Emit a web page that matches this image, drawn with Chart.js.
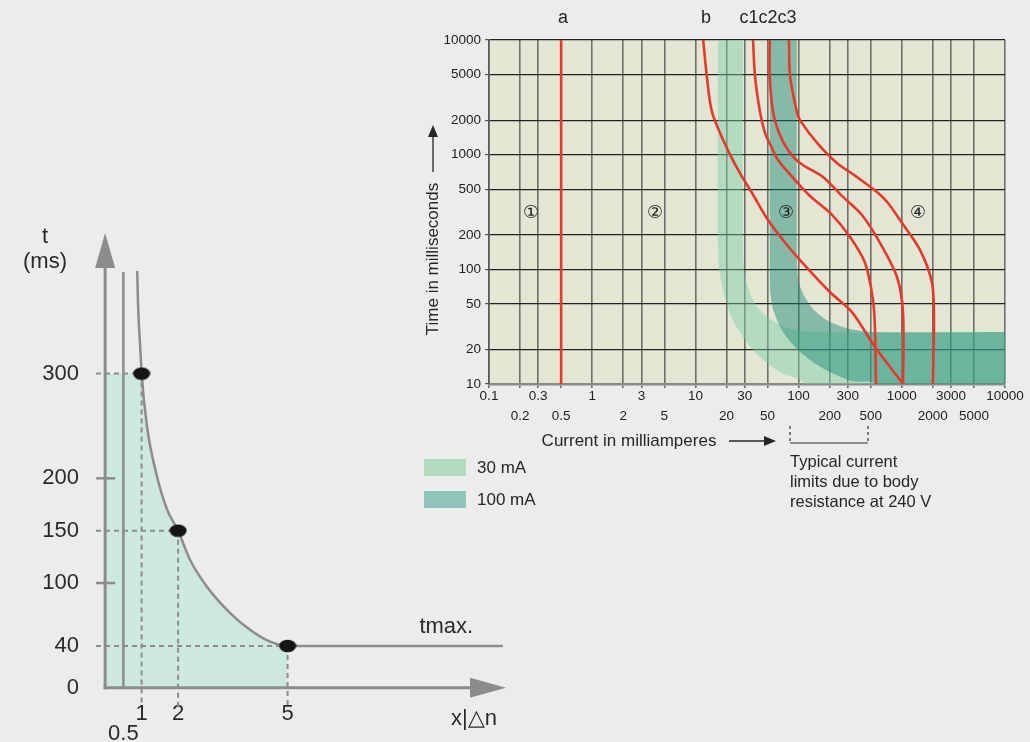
<!DOCTYPE html>
<html><head><meta charset="utf-8">
<script src="https://cdn.jsdelivr.net/npm/chart.js@4.4.1/dist/chart.umd.min.js"></script>
<style>
html,body{margin:0;padding:0;background:#ececec;width:1030px;height:742px;overflow:hidden;}
#wrapL{position:absolute;left:0;top:200px;width:530px;height:542px;}
#wrapR{position:absolute;left:400px;top:0;width:630px;height:530px;}
canvas{display:block;}
</style></head><body>
<div id="wrapL"><canvas id="cL" width="530" height="542"></canvas></div>
<div id="wrapR"><canvas id="cR" width="630" height="530"></canvas></div>
<script>
// ---------------- DATA ----------------
// Right chart: time/current zones (log-log)
const rightXTicksTop = [0.1, 0.3, 1, 3, 10, 30, 100, 300, 1000, 3000, 10000];
const rightXTicksBottom = [0.2, 0.5, 2, 5, 20, 50, 200, 500, 2000, 5000];
const rightYTicks = [10, 20, 50, 100, 200, 500, 1000, 2000, 5000, 10000];

const curveA = [[0.5, 10], [0.5, 10000]];
const curveB = [[11.9, 10000], [12.9, 4850], [14.5, 2350], [20.2, 1140], [27, 690], [35.4, 463], [50.5, 269], [70.6, 180], [98.6, 126], [201, 63.4], [329, 42.4], [550, 21], [1030, 10]];
const curveC1 = [[36.2, 10000], [37.8, 4850], [42.3, 2350], [47.3, 1545], [54, 1190], [63.1, 900], [92.3, 602], [129, 436], [211, 298], [315, 191], [440, 114], [526, 54], [550, 29.6], [562, 10]];
const curveC2 = [[52.5, 10000], [52.5, 4850], [56.5, 2350], [64.6, 1545], [78.9, 1100], [103, 845], [172, 638], [269, 428], [411, 298], [615, 170], [898, 85.7], [1028, 41.6], [1028, 10]];
const curveC3 = [[80.7, 10000], [82.6, 4850], [96.4, 2350], [103, 2000], [151, 1265], [235, 845], [368, 638], [575, 472], [735, 379], [961, 269], [1500, 148], [1963, 76], [2050, 36.1], [2000, 10]];

const band30 = [[16.6, 20000], [16.6, 148], [17.3, 89.3], [19.4, 56.2], [23.1, 36.1], [30.3, 24.2], [42.3, 17.2], [66.1, 12.7], [115, 10], [115, 5], [20000, 5], [20000, 28.4], [15000, 28.4], [129, 28.4], [73.8, 31.4], [47.3, 40], [36.2, 54], [30.9, 80.7], [28.9, 133], [28.9, 20000]];
const band100 = [[52.8, 20000], [52.8, 73], [55.3, 48.9], [61.8, 36.1], [70.6, 28.4], [92.3, 21], [129, 16.2], [201, 12.7], [329, 10.6], [550, 10], [550, 5], [20000, 5], [20000, 28.4], [15000, 28.4], [526, 28.4], [315, 30.2], [201, 34.7], [144, 43.3], [115, 57.4], [101, 76], [96.4, 109], [96.4, 20000]];

const curveLabels = ['a', 'b', 'c1c2c3'];
const curveLabelX = [0.52, 12.7, 50.5];
const zoneLabels = ['①', '②', '③', '④'];
const zoneLabelX = [0.255, 4.06, 75.5, 1436];
const zoneLabelY = 310;
const legendLabels = ['30 mA', '100 mA'];
const bodyLimitRange = [82.6, 470];
const bodyLimitText = ['Typical current', 'limits due to body', 'resistance at 240 V'];

// Left chart: tripping time vs multiple of rated residual current
const leftXTicksUpper = [1, 2, 5];
const leftXTicksLower = [0.5];
const leftYTicks = [0, 40, 100, 150, 200, 300];
const tripCurve = [[0.88, 398], [0.90, 368], [0.97, 320], [1, 300], [1.15, 249], [1.42, 202], [1.70, 170], [2, 150], [2.33, 122], [2.79, 96.5], [3.42, 71.6], [3.97, 55.4], [4.52, 44], [5, 40], [10.9, 40]];
const halfLine = [[0.5, 0], [0.5, 397]];
const keyPoints = [[1, 300], [2, 150], [5, 40]];
const tickMarksY = [100, 200];

// ---------------- STYLE ----------------
const FONT = "'Liberation Sans', Arial, Helvetica, sans-serif";
const RED = '#e6392c';
const toXY = a => a.map(p => ({x: p[0], y: p[1]}));

// ---------------- RIGHT CHART ----------------
const rightAllX = rightXTicksTop.concat(rightXTicksBottom).sort((a, b) => a - b);

const bgPlugin = {
  id: 'plotBg',
  beforeDraw(chart) {
    const a = chart.chartArea, c = chart.ctx;
    c.save(); c.fillStyle = '#e2e6d3';
    c.fillRect(a.left, a.top, a.right - a.left, a.bottom - a.top);
    c.restore();
  }
};

function arrowHead(c, x, y, dir, len, half) {
  c.beginPath();
  if (dir === 'up') { c.moveTo(x, y); c.lineTo(x - half, y + len); c.lineTo(x + half, y + len); }
  else { c.moveTo(x, y); c.lineTo(x - len, y - half); c.lineTo(x - len, y + half); }
  c.closePath(); c.fill();
}

const rightDecor = {
  id: 'rightDecor',
  afterDraw(chart) {
    const c = chart.ctx, xs = chart.scales.x, ys = chart.scales.y;
    c.save();
    c.fillStyle = '#262626'; c.strokeStyle = '#262626';
    c.textAlign = 'center'; c.textBaseline = 'middle';
    c.font = `18px ${FONT}`;
    curveLabels.forEach((t, i) => c.fillText(t, xs.getPixelForValue(curveLabelX[i]), 18));
    c.font = `18px 'DejaVu Sans', 'Noto Sans CJK JP', sans-serif`;
    zoneLabels.forEach((t, i) => c.fillText(t, xs.getPixelForValue(zoneLabelX[i]), ys.getPixelForValue(zoneLabelY)));
    // y title
    c.font = `17px ${FONT}`;
    c.save(); c.translate(33, 259); c.rotate(-Math.PI / 2);
    c.fillText('Time in milliseconds', 0, 0); c.restore();
    c.lineWidth = 1.3;
    c.beginPath(); c.moveTo(33, 172); c.lineTo(33, 135); c.stroke();
    arrowHead(c, 33, 125, 'up', 12, 5);
    // x title
    c.fillText('Current in milliamperes', 229, 441);
    c.beginPath(); c.moveTo(329, 441); c.lineTo(366, 441); c.stroke();
    arrowHead(c, 376, 441, 'right', 12, 5);
    // body-resistance bracket
    const b0 = xs.getPixelForValue(bodyLimitRange[0]), b1 = xs.getPixelForValue(bodyLimitRange[1]);
    c.lineWidth = 1.2; c.strokeStyle = '#333';
    c.setLineDash([3, 3]);
    c.beginPath(); c.moveTo(b0, 426); c.lineTo(b0, 443); c.moveTo(b1, 426); c.lineTo(b1, 443); c.stroke();
    c.setLineDash([]);
    c.beginPath(); c.moveTo(b0, 443); c.lineTo(b1, 443); c.stroke();
    c.textAlign = 'left';
    c.font = `16.5px ${FONT}`;
    bodyLimitText.forEach((t, i) => c.fillText(t, b0, 462 + i * 20));
    // legend
    const cols = ['#b3dcbf', '#8fc4b9'];
    c.font = `17px ${FONT}`;
    legendLabels.forEach((t, i) => {
      c.fillStyle = cols[i]; c.fillRect(24, 459 + i * 32, 42, 17);
      c.fillStyle = '#262626'; c.fillText(t, 77, 468 + i * 32);
    });
    c.restore();
  }
};

const redLine = (data) => ({
  data: toXY(data), showLine: true, borderColor: RED, borderWidth: 2.6,
  pointRadius: 0, tension: 0.3, fill: false, order: 0
});

new Chart(document.getElementById('cR'), {
  type: 'scatter',
  data: {
    datasets: [
      redLine(curveA), redLine(curveB), redLine(curveC1), redLine(curveC2), redLine(curveC3),
      { data: toXY(band100), showLine: true, fill: 'shape', backgroundColor: 'rgba(22,134,116,0.45)',
        borderWidth: 0, borderColor: 'rgba(0,0,0,0)', pointRadius: 0, tension: 0.3, order: 10 },
      { data: toXY(band30), showLine: true, fill: 'shape', backgroundColor: 'rgba(120,207,166,0.45)',
        borderWidth: 0, borderColor: 'rgba(0,0,0,0)', pointRadius: 0, tension: 0.3, order: 11 }
    ]
  },
  options: {
    responsive: false, animation: false, devicePixelRatio: 1,
    layout: { padding: { top: 40, right: 25, left: 0, bottom: 0 } },
    plugins: { legend: { display: false }, tooltip: { enabled: false } },
    scales: {
      x: {
        type: 'logarithmic', min: 0.1, max: 10000,
        afterBuildTicks: s => { s.ticks = rightAllX.map(v => ({ value: v })); },
        afterFit: s => { s.height = 146; },
        grid: { color: '#6f7068', lineWidth: 1.6, tickLength: 4, tickColor: '#666' },
        border: { color: '#8b8b86', width: 2.5 },
        ticks: {
          autoSkip: false, maxRotation: 0, minRotation: 0, padding: -2, color: '#222',
          font: { family: FONT, size: 13.5, lineHeight: '20px' },
          callback: v => rightXTicksBottom.includes(v) ? ['', String(v)] : String(v)
        }
      },
      y: {
        type: 'logarithmic', min: 10, max: 10000,
        afterBuildTicks: s => { s.ticks = rightYTicks.map(v => ({ value: v })); },
        afterFit: s => { s.width = 89; },
        grid: { color: '#222', lineWidth: 1.2, tickLength: 4, tickColor: '#555' },
        border: { color: '#555', width: 1.5 },
        ticks: { padding: 4, color: '#222', font: { family: FONT, size: 13.5 }, callback: v => String(v) }
      }
    }
  },
  plugins: [bgPlugin, rightDecor]
});

// ---------------- LEFT CHART ----------------
const dot = document.createElement('canvas');
dot.width = 18; dot.height = 14;
(() => { const d = dot.getContext('2d'); d.fillStyle = '#151515'; d.beginPath(); d.ellipse(9, 7, 8.5, 6.3, 0, 0, Math.PI * 2); d.fill(); })();

const tripZone = [[0, 300]].concat(tripCurve.filter(p => p[1] <= 300 && p[0] <= 5));
const GRAY = '#8c8c8c';
const dashed = (data) => ({
  data: toXY(data), showLine: true, borderColor: GRAY, borderWidth: 2, borderDash: [5, 4],
  pointRadius: 0, fill: false, clip: false, order: 3
});
const guideSets = [];
keyPoints.forEach(p => {
  guideSets.push(dashed([[-0.25, p[1]], [p[0], p[1]]]));
  guideSets.push(dashed([[p[0], p[1]], [p[0], -18]]));
});

const leftDecor = {
  id: 'leftDecor',
  afterDatasetsDraw(chart) {
    const c = chart.ctx, xs = chart.scales.x, ys = chart.scales.y;
    const x0 = xs.getPixelForValue(0), y0 = ys.getPixelForValue(0);
    c.save();
    c.strokeStyle = GRAY; c.fillStyle = GRAY; c.lineWidth = 3;
    c.beginPath(); c.moveTo(x0, y0 + 1.5); c.lineTo(x0, 66); c.stroke();
    arrowHead(c, x0, 33, 'up', 35, 10);
    c.beginPath(); c.moveTo(x0 - 1.5, y0); c.lineTo(472, y0); c.stroke();
    arrowHead(c, 506, y0, 'right', 36, 10);
    c.lineWidth = 2.5;
    tickMarksY.forEach(v => { const y = ys.getPixelForValue(v); c.beginPath(); c.moveTo(x0 - 9, y); c.lineTo(x0 + 10, y); c.stroke(); });
    c.fillStyle = '#2a2a2a'; c.textAlign = 'center'; c.textBaseline = 'middle';
    c.font = `22px ${FONT}`;
    c.fillText('t', 45, 37);
    c.fillText('(ms)', 45, 62);
    c.fillText('tmax.', xs.getPixelForValue(9.35), ys.getPixelForValue(58));
    c.fillText('x|△n', 474, 519);
    c.restore();
  }
};

new Chart(document.getElementById('cL'), {
  type: 'scatter',
  data: {
    datasets: [
      { data: toXY(keyPoints), pointStyle: dot, pointRadius: 8, showLine: false, clip: false, order: 0 },
      { data: toXY(tripCurve), showLine: true, borderColor: GRAY, borderWidth: 2.5, pointRadius: 0,
        cubicInterpolationMode: 'monotone', fill: false, order: 1 },
      { data: toXY(halfLine), showLine: true, borderColor: GRAY, borderWidth: 2.5, pointRadius: 0, fill: false, order: 2 },
      ...guideSets,
      { data: toXY(tripZone), showLine: true, borderWidth: 0, borderColor: 'rgba(0,0,0,0)',
        backgroundColor: '#cce8e1', pointRadius: 0, cubicInterpolationMode: 'monotone', fill: 'origin', order: 10 }
    ]
  },
  options: {
    responsive: false, animation: false, devicePixelRatio: 1,
    layout: { padding: { top: 27, right: 18, left: 0, bottom: 0 } },
    plugins: { legend: { display: false }, tooltip: { enabled: false } },
    scales: {
      x: {
        type: 'linear', min: -0.25, max: 11.15,
        afterBuildTicks: s => { s.ticks = leftXTicksLower.concat(leftXTicksUpper).map(v => ({ value: v })); },
        afterFit: s => { s.height = 49; },
        grid: { display: false }, border: { display: false },
        ticks: { autoSkip: false, maxRotation: 0, padding: 3, color: '#2a2a2a',
          font: { family: FONT, size: 22, lineHeight: '20px' },
          callback: v => leftXTicksLower.includes(v) ? ['', String(v)] : String(v) }
      },
      y: {
        type: 'linear', min: -5, max: 440,
        afterBuildTicks: s => { s.ticks = leftYTicks.map(v => ({ value: v })); },
        afterFit: s => { s.width = 96; },
        grid: { display: false }, border: { display: false },
        ticks: { padding: 9, color: '#2a2a2a', font: { family: FONT, size: 22 }, callback: v => String(v) }
      }
    }
  },
  plugins: [leftDecor]
});
</script>
</body></html>
